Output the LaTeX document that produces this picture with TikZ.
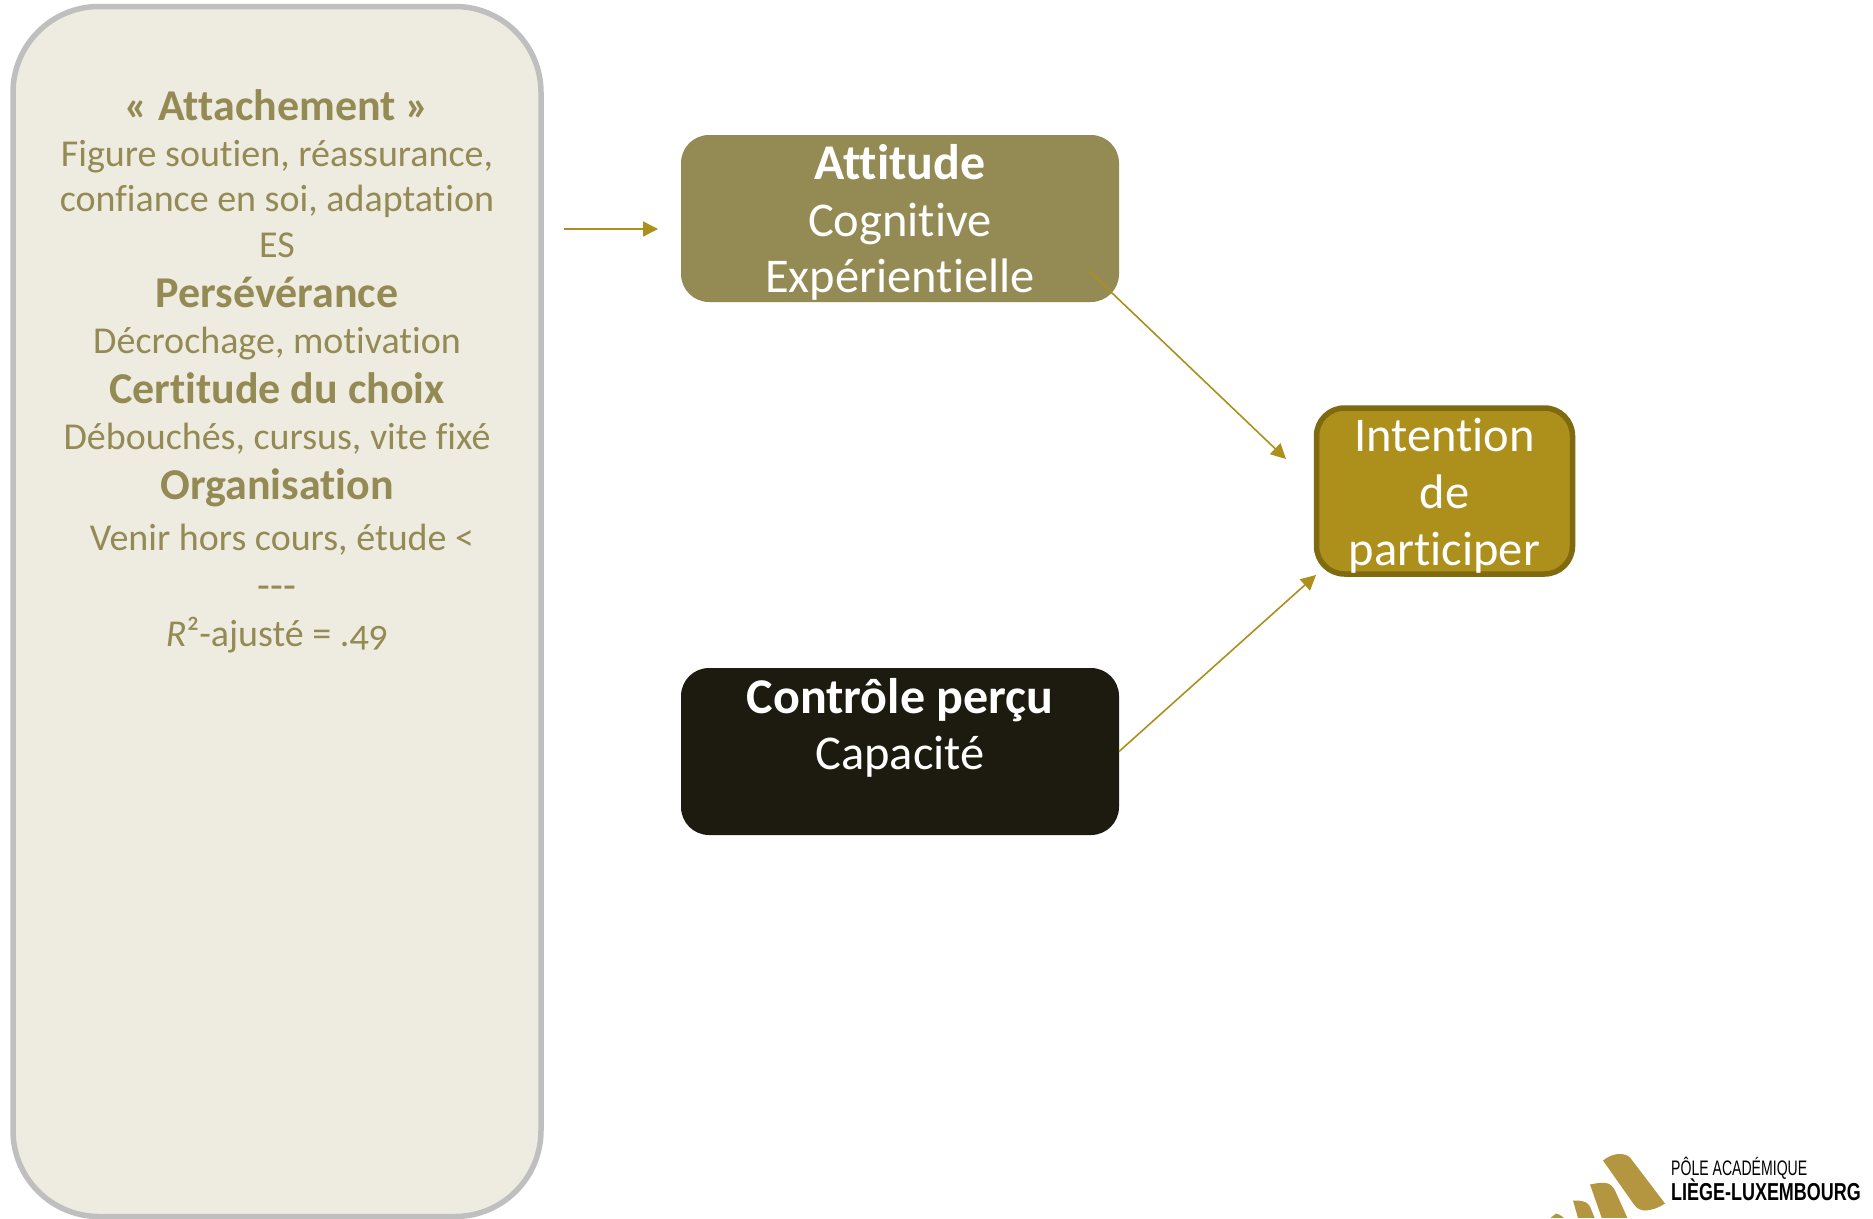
\documentclass[tikz,border=0pt]{standalone}
\usepackage{fontspec}
\setmainfont{Carlito}[Numbers=OldStyle,Ligatures=NoCommon]
\newfontfamily\logofont{Liberation Sans}
\usetikzlibrary{arrows.meta}
\definecolor{olivetxt}{HTML}{948A54}
\definecolor{panelfill}{HTML}{EEECE1}
\definecolor{panelline}{HTML}{BFBFBF}
\definecolor{gold}{HTML}{AD8F1C}
\definecolor{golddark}{HTML}{7F6A10}
\definecolor{nearblack}{HTML}{1D1B10}
\definecolor{logogold}{HTML}{B3963F}
\tikzset{
  x=1pt,y=-1pt,
  construct/.style={rounded corners=28pt,inner sep=0pt,outer sep=0pt,text=white,align=center,
    minimum width=438pt,minimum height=167pt,
    font=\fontsize{48.5}{56.7}\selectfont},
  link/.style={draw=gold,line width=1.6pt,-{Triangle[length=15pt,width=15pt]}},
  logomark/.style={fill=logogold,draw=none},
}
\newcommand{\headline}[1]{{\fontsize{44}{47}\selectfont\bfseries #1}}
\newcommand{\boxhead}[1]{{\fontsize{50}{56.7}\selectfont\bfseries #1}}
\begin{document}
\begin{tikzpicture}
\useasboundingbox (0,0) rectangle (1873,1218);
\fill[white] (0,0) rectangle (1873,1218);
% panel
\node[draw=panelline,fill=panelfill,line width=5.5pt,rounded corners=86pt,inner sep=0pt,outer sep=0pt,
  minimum width=528pt,minimum height=1210pt] (panel) at (277,611.5) {};
\node[inner sep=0pt,outer sep=0pt,anchor=base,align=center,text=olivetxt,
  font=\fontsize{38}{45.5}\selectfont] (paneltext) at (277,646) {%
  \headline{« Attachement »}\\
  Figure soutien, réassurance,\\
  confiance en soi, adaptation\\
  ES\\[5pt]
  \headline{Persévérance}\\
  Décrochage, motivation\\[5pt]
  \headline{Certitude du choix}\\
  Débouchés, cursus, vite fixé\\[5pt]
  \headline{Organisation}\\[5pt]
  \hspace*{10pt}Venir hors cours, étude <\\
  \raisebox{-4pt}{\fontsize{42}{45.5}\selectfont -{}-{}-}\\[5pt]
  \textit{R}²-ajusté = .49};
% constructs
\node[construct,fill=olivetxt] (attitude) at (900,218.5) {\rule{0pt}{43pt}\boxhead{Attitude}\\Cognitive\\Expérientielle};
\node[construct,fill=nearblack] (controle) at (900,751.5) {\rule{0pt}{44.8pt}\boxhead{Contrôle perçu}\\Capacité\\\rule[-8.4pt]{0pt}{8.4pt}};
\node[construct,fill=gold,draw=golddark,line width=5.5pt,minimum width=256pt,minimum height=166pt] (intention) at (1444.5,491) {\rule{0pt}{43pt}Intention\\de\\participer};
% connector ends
\coordinate (panelout) at (564,229);
\coordinate (attin) at (658,229);
\coordinate (attout) at (1089,271);
\coordinate (intin) at (1286,459);
\coordinate (intin2) at (1316,575);
\draw[link] (panelout) -- (attin);
\draw[link] (attout) -- (intin);
\draw[link] (controle.east) -- (intin2);
% logo
\begin{scope}[xshift=-3pt,yshift=0.5pt]
\clip (1500,1120) rectangle (1880,1218);
\fill[logomark] (1606,1161) .. controls (1611,1157) and (1616,1155) .. (1621,1154.5)
  .. controls (1626,1154.5) and (1630,1155) .. (1633,1158) -- (1668,1204)
  .. controls (1662,1208) and (1655,1211) .. (1647,1211)
  .. controls (1642,1210) and (1640,1209) .. (1637,1205) -- cycle;
\fill[logomark] (1593,1185) .. controls (1598,1184) and (1603,1183) .. (1608.5,1183.4)
  .. controls (1613,1184) and (1616,1187) .. (1618,1191) -- (1632,1222) -- (1606,1222) -- cycle;
\fill[logomark] (1576,1201) .. controls (1581,1201) and (1586,1201) .. (1590,1203.5)
  .. controls (1593,1206) and (1594,1209) .. (1595,1212) -- (1599,1222) -- (1582,1222) -- cycle;
\fill[logomark] (1554,1218) -- (1559,1214) .. controls (1563,1215) and (1566,1217) .. (1570,1222) -- (1555,1222) -- cycle;
\end{scope}
\node[inner sep=0pt,anchor=base west,text=black,font=\logofont\fontsize{21}{21}\selectfont] (logoa) at (1671,1175.5) {\scalebox{0.67}[1]{PÔLE ACADÉMIQUE}};
\node[inner sep=0pt,anchor=base west,text=black,font=\logofont\bfseries\fontsize{24.5}{24.5}\selectfont] (logob) at (1671,1200) {\scalebox{0.733}[1]{LIÈGE-LUXEMBOURG}};
\end{tikzpicture}
\end{document}
